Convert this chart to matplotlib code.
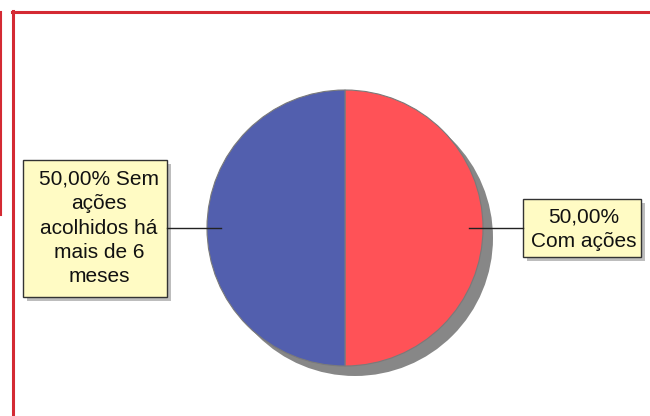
import matplotlib.pyplot as plt
from matplotlib.patches import Rectangle
from matplotlib.lines import Line2D

# slice data (clockwise from 12 o'clock)
categories = ['Com ações', 'Sem ações acolhidos há mais de 6 meses']
values = [50.0, 50.0]
colors = ['#FF5257', '#525FAE']
label_lines = [['{pct}', 'Com ações'],
               ['{pct} Sem', 'ações', 'acolhidos há', 'mais de 6', 'meses']]

W, H = 650, 416
plt.rcParams['font.family'] = ['Liberation Sans', 'DejaVu Sans']

fig = plt.figure(figsize=(W / 100, H / 100), dpi=100)
ax = fig.add_axes([0, 0, 1, 1])

def fy(py):
    # pixel row -> data y
    return H - py

cx, cy, r = 345, fy(228), 138

# shadow, then the pie itself
ax.pie(values, colors=['#878787'] * len(values), center=(cx + 10, cy - 10), radius=r,
       startangle=90, counterclock=False, frame=True,
       wedgeprops=dict(linewidth=0))
ax.pie(values, colors=colors, center=(cx, cy), radius=r,
       startangle=90, counterclock=False, frame=True,
       wedgeprops=dict(edgecolor='#7a7a7a', linewidth=0.8))

def pct_text(v):
    return f'{v:.2f}'.replace('.', ',') + '%'

# label boxes: (x0, y0, x1, y1) in pixels, text centre, leader line
boxes = [((523, 199, 641, 257), (584, 229), ((469, 228), (523, 228))),
         ((23, 160, 167, 297), (99, 228), ((167, 228), (221, 228)))]

for v, lines, (rect, tc, lead) in zip(values, label_lines, boxes):
    x0, y0, x1, y1 = rect
    ax.add_patch(Rectangle((x0 + 4, fy(y1) - 4), x1 - x0, y1 - y0,
                           facecolor='#BDBDBD', edgecolor='none', zorder=3))
    ax.add_patch(Rectangle((x0, fy(y1)), x1 - x0, y1 - y0,
                           facecolor='#FFFBC4', edgecolor='#333333', linewidth=1.0, zorder=4))
    txt = '\n'.join(l.format(pct=pct_text(v)) for l in lines)
    ax.text(tc[0], fy(tc[1]), txt, ha='center', va='center', fontsize=15,
            linespacing=1.36, color='#111111', zorder=5)
    (lx0, ly0), (lx1, ly1) = lead
    ax.plot([lx0, lx1], [fy(ly0), fy(ly1)], color='#222222', linewidth=1.0, zorder=6)

ax.set_xlim(0, W)
ax.set_ylim(0, H)
ax.axis('off')

# red page frame
red = '#D42A33'
fig.add_artist(Line2D([12 / W, 1], [fy(11.5) / H] * 2, color=red, linewidth=2.2))
fig.add_artist(Line2D([12.5 / W] * 2, [0, fy(11) / H], color=red, linewidth=2.2))
fig.add_artist(Line2D([0.8 / W] * 2, [fy(215) / H, fy(12) / H], color=red, linewidth=1.5))

fig.savefig('out.png', dpi=100)
